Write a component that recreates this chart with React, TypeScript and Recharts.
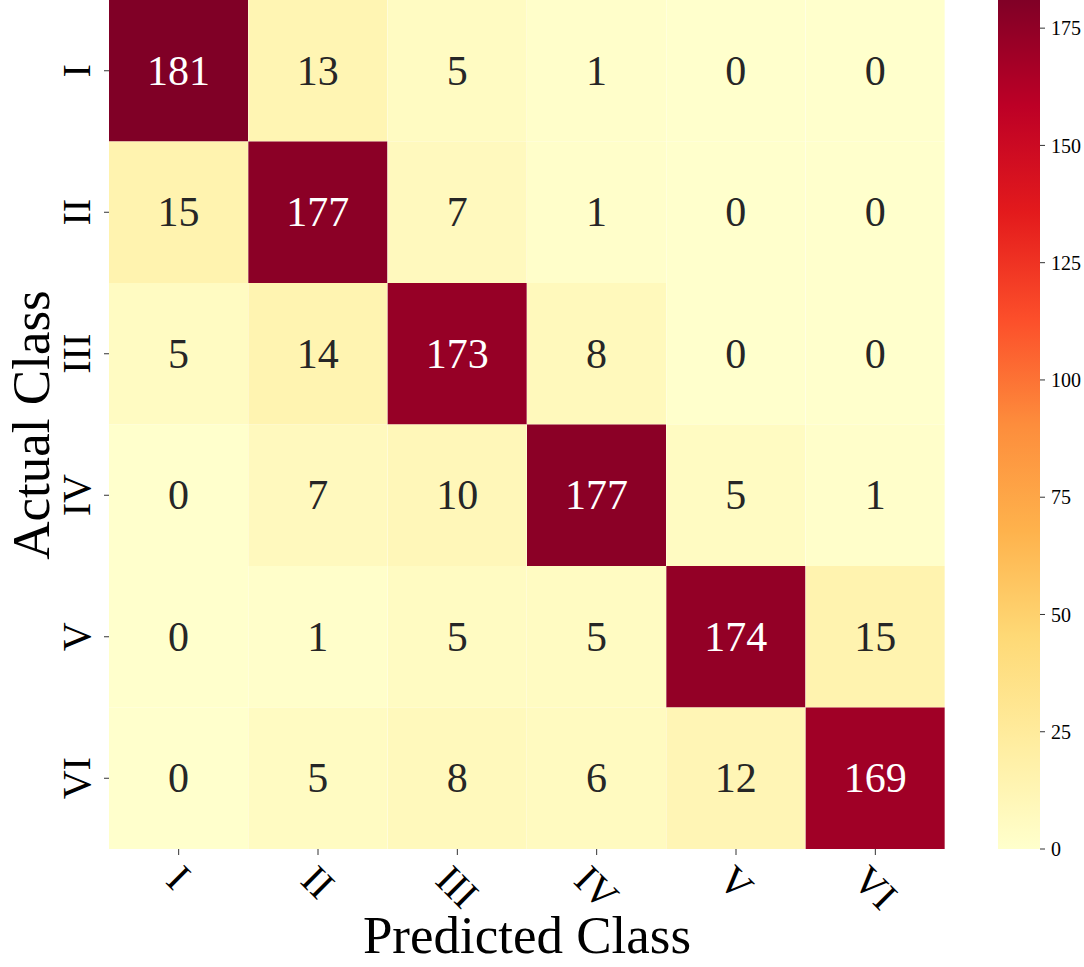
import { Bar, BarChart, LabelList, XAxis, YAxis, Cell, Label } from "recharts";

const classes = ["I", "II", "III", "IV", "V", "VI"];

// rows = actual class, columns = predicted class
const matrix = [
  [181, 13, 5, 1, 0, 0],
  [15, 177, 7, 1, 0, 0],
  [5, 14, 173, 8, 0, 0],
  [0, 7, 10, 177, 5, 1],
  [0, 1, 5, 5, 174, 15],
  [0, 5, 8, 6, 12, 169],
];

const colorbarTicks = [0, 25, 50, 75, 100, 125, 150, 175];
const vmax = 181;

const serif = "'Liberation Serif', 'Times New Roman', serif";

// YlOrRd
const stops = ["#ffffcc", "#ffeda0", "#fed976", "#feb24c", "#fd8d3c", "#fc4e2a", "#e31a1c", "#bd0026", "#800026"];

const hex = (h: string) => [1, 3, 5].map((i) => parseInt(h.slice(i, i + 2), 16));

function ylorrd(t: number) {
  const c = Math.max(0, Math.min(1, t)) * (stops.length - 1);
  const i = Math.min(Math.floor(c), stops.length - 2);
  const f = c - i;
  const a = hex(stops[i]);
  const b = hex(stops[i + 1]);
  const rgb = a.map((v, k) => Math.round(v + (b[k] - v) * f));
  return { css: `rgb(${rgb.join(",")})`, lum: (0.299 * rgb[0] + 0.587 * rgb[1] + 0.114 * rgb[2]) / 255 };
}

// one column per predicted class, one unit-high cell per actual class
const table = classes.map((pred) => {
  const row: Record<string, string | number> = { pred };
  classes.forEach((a) => (row[a] = 1));
  return row;
});

const charW: Record<string, number> = { I: 0.333, V: 0.722 };
const textWidth = (s: string) => s.split("").reduce((acc, ch) => acc + (charW[ch] ?? 0.5), 0);

const YTick = (props: any) => {
  const { x, y, payload } = props;
  const label = classes[Math.floor(payload.value)];
  return (
    <text transform={`translate(${x}, ${y}) rotate(-90)`} textAnchor="middle" fontSize={40} fontFamily={serif} fill="#000">
      {label}
    </text>
  );
};

const XTick = (props: any) => {
  const { x, y, payload } = props;
  const label = payload.value as string;
  const cy = y + 0.354 * (textWidth(label) * 40 + 30);
  return (
    <text
      transform={`translate(${x}, ${cy}) rotate(45)`}
      textAnchor="middle"
      dominantBaseline="central"
      fontSize={40}
      fontFamily={serif}
      fill="#000"
    >
      {label}
    </text>
  );
};

export default function App() {
  return (
    <div style={{ position: "absolute", left: 0, top: 0, width: 1084, height: 967, background: "#fff" }}>
      <div style={{ position: "absolute", left: 0, top: 0 }}>
        <BarChart
          width={960}
          height={967}
          data={table}
          margin={{ top: 0, right: 15, bottom: 58, left: 49 }}
          barCategoryGap={0}
          barGap={0}
        >
          <XAxis
            dataKey="pred"
            height={60}
            axisLine={false}
            tickSize={6}
            tickMargin={7}
            tickLine={{ stroke: "#333" }}
            tick={<XTick />}
            interval={0}
          >
            <Label
              content={() => (
                <text x={527} y={953} textAnchor="middle" fontSize={53} fontFamily={serif} fill="#000">
                  Predicted Class
                </text>
              )}
            />
          </XAxis>
          <YAxis
            type="number"
            domain={[0, 6]}
            ticks={[0.5, 1.5, 2.5, 3.5, 4.5, 5.5]}
            reversed
            width={60}
            axisLine={false}
            tickSize={5}
            tickMargin={14}
            tickLine={{ stroke: "#333" }}
            tick={<YTick />}
            interval={0}
          >
            <Label
              content={() => (
                <text
                  transform="translate(49, 425) rotate(-90)"
                  textAnchor="middle"
                  fontSize={53}
                  fontFamily={serif}
                  fill="#000"
                >
                  Actual Class
                </text>
              )}
            />
          </YAxis>
          {classes.map((actual, i) => (
            <Bar key={actual} dataKey={actual} stackId="cm" isAnimationActive={false}>
              {classes.map((pred, j) => (
                <Cell key={pred} fill={ylorrd(matrix[i][j] / vmax).css} />
              ))}
              <LabelList
                dataKey={actual}
                content={(p: any) => {
                  const v = matrix[i][p.index];
                  const c = ylorrd(v / vmax);
                  return (
                    <text
                      x={p.x + p.width / 2}
                      y={p.y + p.height / 2}
                      textAnchor="middle"
                      dominantBaseline="central"
                      fontSize={42}
                      fontFamily={serif}
                      fill={c.lum < 0.5 ? "#fff" : "#262626"}
                    >
                      {v}
                    </text>
                  );
                }}
              />
            </Bar>
          ))}
        </BarChart>
      </div>
      <div style={{ position: "absolute", left: 998, top: 0 }}>
        <BarChart
          width={86}
          height={967}
          data={[{ name: "cb", value: vmax }]}
          margin={{ top: 0, right: 0, bottom: 118, left: 0 }}
          barCategoryGap={0}
        >
          <defs>
            <linearGradient id="cbar" x1="0" y1="1" x2="0" y2="0">
              {stops.map((s, k) => (
                <stop key={k} offset={k / (stops.length - 1)} stopColor={s} />
              ))}
            </linearGradient>
          </defs>
          <XAxis dataKey="name" hide />
          <YAxis
            orientation="right"
            type="number"
            domain={[0, vmax]}
            ticks={colorbarTicks}
            width={44}
            axisLine={false}
            tickSize={5}
            tickMargin={6}
            tickLine={{ stroke: "#333" }}
            tick={{ fontSize: 20, fontFamily: serif, fill: "#000" }}
            interval={0}
          />
          <Bar dataKey="value" fill="url(#cbar)" isAnimationActive={false} />
        </BarChart>
      </div>
    </div>
  );
}
